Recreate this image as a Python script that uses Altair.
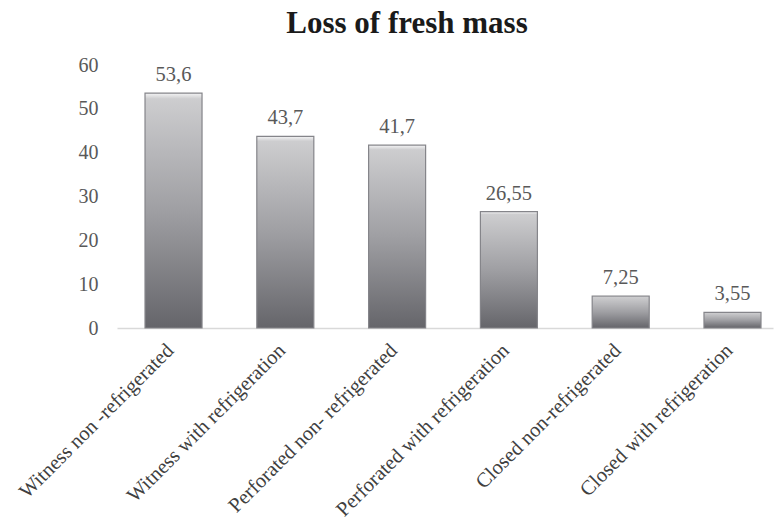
import altair as alt
import pandas as pd

categories = [
    "Witness non -refrigerated",
    "Witness with refrigeration",
    "Perforated non- refrigerated",
    "Perforated with refrigeration",
    "Closed non-refrigerated",
    "Closed with refrigeration",
]
values = [53.6, 43.7, 41.7, 26.55, 7.25, 3.55]
value_labels = ["53,6", "43,7", "41,7", "26,55", "7,25", "3,55"]
y_ticks = [0, 10, 20, 30, 40, 50, 60]
title_text = ["Loss of fresh mass"]

df = pd.DataFrame({"cat": categories, "val": values, "lab": value_labels})
tdf = pd.DataFrame({"t": title_text})

FONT = "Liberation Serif"

x_enc = alt.X(
    "cat:N",
    sort=categories,
    title=None,
    scale=alt.Scale(paddingInner=0.49, paddingOuter=0.179, align=0.7),
    axis=alt.Axis(
        labelAngle=-45,
        labelAlign="right",
        labelBaseline="middle",
        labelFont=FONT,
        labelFontSize=20.5,
        labelColor="#404040",
        labelPadding=19,
        labelOffset=-3,
        ticks=False,
        domainColor="#d9d9d9",
        domainWidth=1.5,
        labelLimit=400,
    ),
)
y_enc = alt.Y(
    "val:Q",
    title=None,
    scale=alt.Scale(domain=[0, 60], nice=False),
    axis=alt.Axis(
        values=y_ticks,
        grid=False,
        domain=False,
        ticks=False,
        labelFont=FONT,
        labelFontSize=20,
        labelColor="#595959",
        labelPadding=19,
    ),
)

grad = alt.Gradient(
    gradient="linear",
    x1=0, x2=0, y1=0, y2=1,
    stops=[
        alt.GradientStop(offset=0, color="#f4f4f5"),
        alt.GradientStop(offset=0.025, color="#cdcdcf"),
        alt.GradientStop(offset=0.5, color="#9f9fa3"),
        alt.GradientStop(offset=1, color="#65656a"),
    ],
)

bars = alt.Chart(df).mark_bar(
    fill=grad, stroke="#85858a", strokeWidth=1.2
).encode(x=x_enc, y=y_enc)

texts = alt.Chart(df).mark_text(
    font=FONT, fontSize=20.5, color="#595959", baseline="alphabetic", dy=-12
).encode(x=alt.X("cat:N", sort=categories), y="val:Q", text="lab:N")

title = alt.Chart(tdf).mark_text(
    font=FONT, fontSize=31, fontWeight="bold", color="#1a1a1a",
    baseline="alphabetic", align="center",
).encode(x=alt.value(290), y=alt.value(-32), text="t:N")

chart = (
    alt.layer(bars, texts, title)
    .properties(
        width=656,
        height=263,
        padding={"left": 117, "top": 65, "right": 1, "bottom": 198},
        autosize=alt.AutoSizeParams(type="none"),
    )
    .configure_view(stroke=None)
)

chart.save("out.html", embed_options={"renderer": "svg", "actions": False})
